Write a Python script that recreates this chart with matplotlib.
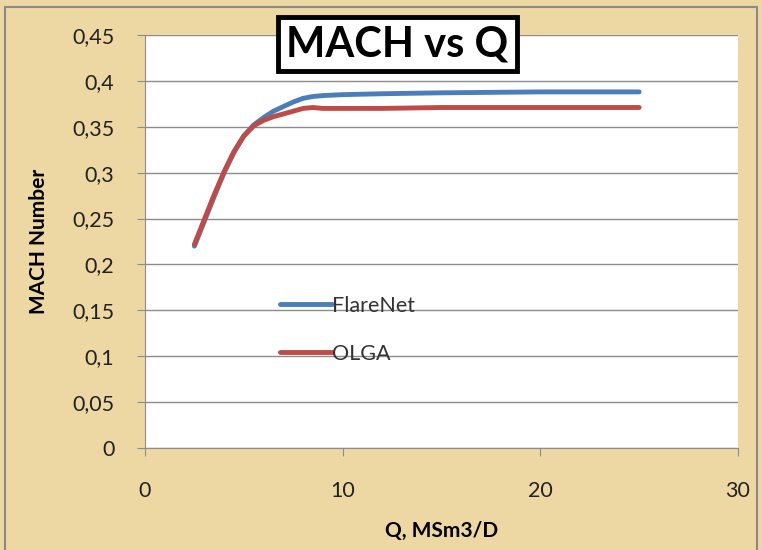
import matplotlib
matplotlib.use("Agg")
import matplotlib.pyplot as plt
from matplotlib.patches import Rectangle
from matplotlib.ticker import FuncFormatter

q = [2.5, 3.0, 3.5, 4.0, 4.5, 5.0, 5.5, 6.0, 6.5, 7.0, 7.5, 8.0, 8.5, 9.0, 10.0, 12.0, 15.0, 20.0, 25.0]
flarenet = [0.220, 0.247, 0.274, 0.300, 0.322, 0.340, 0.352, 0.360, 0.367, 0.372, 0.377, 0.381, 0.383, 0.384, 0.385, 0.386, 0.387, 0.388, 0.388]
olga = [0.222, 0.249, 0.276, 0.301, 0.323, 0.340, 0.351, 0.357, 0.361, 0.364, 0.367, 0.370, 0.371, 0.370, 0.370, 0.370, 0.371, 0.371, 0.371]
series_names = ["FlareNet", "OLGA"]
yticks = [0, 0.05, 0.1, 0.15, 0.2, 0.25, 0.3, 0.35, 0.4, 0.45]
xticks = [0, 10, 20, 30]

BG = "#EDD8A4"
fig = plt.figure(figsize=(7.62, 5.5), dpi=100, facecolor=BG)
font = ["Lato", "DejaVu Sans"]

# outer border
fig.patches.append(Rectangle((5/762, -0.02), 752/762, 1.02 - 7/550, transform=fig.transFigure,
                             fill=False, edgecolor="#8a8a8a", linewidth=1.5))

ax = fig.add_axes([145/762, 1 - 448/550, (738 - 145)/762, (448 - 35)/550])
ax.set_facecolor("white")
ax.plot(q, flarenet, color="#4A7EBB", linewidth=3.5, label=series_names[0], solid_capstyle="round")
ax.plot(q, olga, color="#BE4B48", linewidth=3.5, label=series_names[1], solid_capstyle="round")

ax.set_xlim(0, 30)
ax.set_ylim(0, 0.45)
ax.set_xticks(xticks)
ax.set_yticks(yticks)
ax.yaxis.set_major_formatter(FuncFormatter(lambda v, p: ("%g" % round(v, 2)).replace(".", ",")))
ax.grid(axis="y", color="#8c8c8c", linewidth=1)
ax.set_axisbelow(True)
for s in ["top", "right"]:
    ax.spines[s].set_visible(False)
for s in ["left", "bottom"]:
    ax.spines[s].set_color("#8c8c8c")
ax.tick_params(axis="both", direction="out", length=6, color="#8c8c8c", labelsize=15.5)
ax.tick_params(axis="x", pad=18)
ax.tick_params(axis="y", pad=16)
for lab in ax.get_xticklabels() + ax.get_yticklabels():
    lab.set_family(font)
    lab.set_color("#222222")

ax.set_xlabel("Q, MSm3/D", fontsize=15, fontweight="bold", family=font, labelpad=14)
ax.set_ylabel("MACH Number", fontsize=15, fontweight="bold", family=font, labelpad=17)

leg = ax.legend(loc="upper left", bbox_to_anchor=(0.195, 0.415), frameon=False,
                prop={"family": font, "size": 15.5}, handlelength=2.4, handletextpad=0.0,
                labelspacing=1.3)
for t in leg.get_texts():
    t.set_color("#333333")

fig.text((278 + 517) / 2 / 762, 1 - 44 / 550, "MACH vs Q", ha="center", va="center",
         fontsize=30, fontweight="bold", family=font,
         bbox=dict(boxstyle="square,pad=0.2", facecolor="white", edgecolor="black", linewidth=3.5))

fig.savefig("out.png", dpi=100, facecolor=BG)
